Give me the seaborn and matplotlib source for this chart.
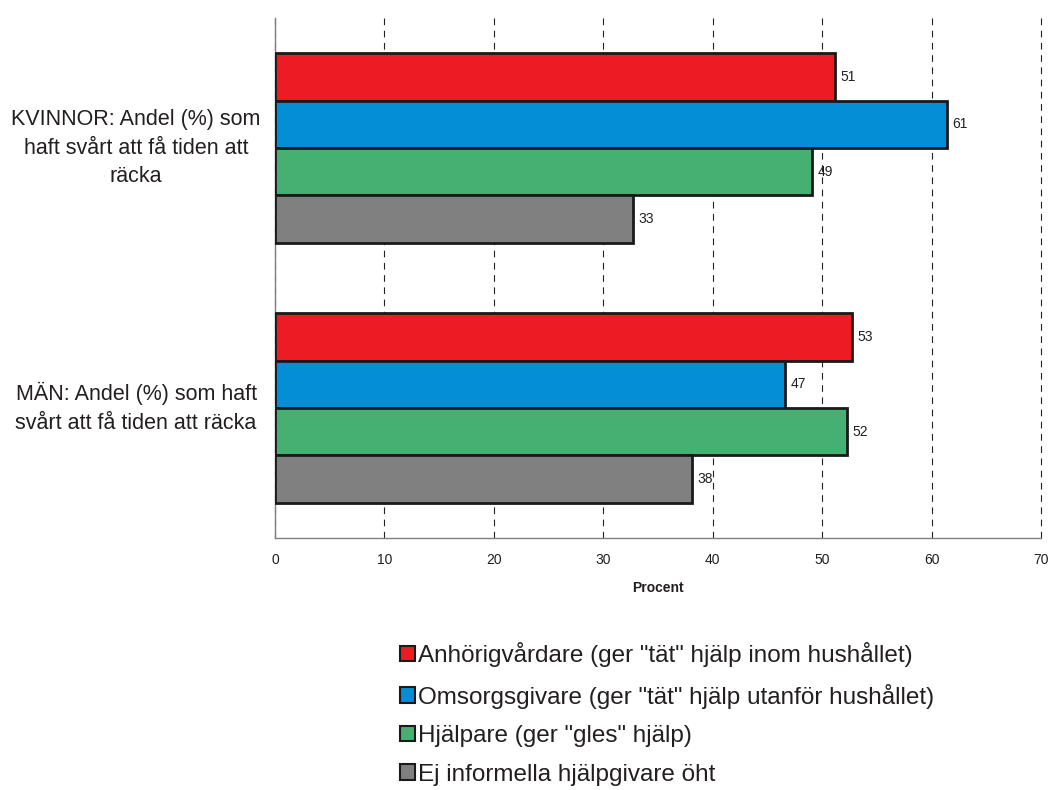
import matplotlib
matplotlib.use("Agg")
import matplotlib.pyplot as plt
import seaborn as sns
import pandas as pd
from matplotlib.patches import Patch

# Groups shown on the y axis
groups = [
    "KVINNOR: Andel (%) som\nhaft svårt att få tiden att\nräcka",
    "MÄN: Andel (%) som haft\nsvårt att få tiden att räcka",
]

# Helper categories (series)
series = [
    'Anhörigvårdare (ger "tät" hjälp inom hushållet)',
    'Omsorgsgivare (ger "tät" hjälp utanför hushållet)',
    'Hjälpare (ger "gles" hjälp)',
    "Ej informella hjälpgivare öht",
]

# Share (%) who found it hard to make time suffice, per group
anhorigvardare = [51.2, 52.7]
omsorgsgivare = [61.4, 46.6]
hjalpare = [49.1, 52.3]
ej_hjalpgivare = [32.7, 38.1]

colors = ["#ED1C24", "#038ED6", "#45B072", "#808080"]
x_ticks = [0, 10, 20, 30, 40, 50, 60, 70]

rows = []
for s, vals in zip(series, [anhorigvardare, omsorgsgivare, hjalpare, ej_hjalpgivare]):
    for g, v in zip(groups, vals):
        rows.append({"grupp": g, "serie": s, "procent": v})
df = pd.DataFrame(rows)

sns.set_theme(style="white")
plt.rcParams["font.family"] = ["Liberation Sans", "DejaVu Sans"]
text_color = "#231F20"

fig = plt.figure(figsize=(10.49, 7.90), dpi=100)
ax = fig.add_axes([275 / 1049, 1 - 538 / 790, (1041 - 275) / 1049, (538 - 18) / 790])

sns.barplot(
    data=df, y="grupp", x="procent", hue="serie",
    order=groups, hue_order=series, palette=colors,
    orient="h", width=0.73, edgecolor="#1a1a1a", linewidth=2.0,
    saturation=1.0, legend=False, ax=ax, zorder=3,
)

for cont in ax.containers:
    ax.bar_label(cont, fmt="%.0f", padding=4, fontsize=10, color=text_color)

ax.set_xlim(0, 70)
ax.set_xticks(x_ticks)
ax.set_xticklabels([str(t) for t in x_ticks], fontsize=10, color=text_color)
ax.set_xlabel("Procent", fontsize=10, fontweight="bold", color=text_color, labelpad=10)
ax.set_ylabel("")

ax.set_axisbelow(True)
ax.xaxis.grid(True, color="#222222", linestyle=(0, (6, 5)), linewidth=0.8)
ax.yaxis.grid(False)
for gl in ax.get_xgridlines():
    gl.set_clip_on(False)

for side in ["top", "right"]:
    ax.spines[side].set_visible(False)
for side in ["left", "bottom"]:
    ax.spines[side].set_color("#808080")
    ax.spines[side].set_linewidth(1.0)

ax.tick_params(axis="x", direction="inout", length=6, color="#808080", pad=8)
ax.tick_params(axis="y", length=0, pad=100)
for lbl in ax.get_yticklabels():
    lbl.set_horizontalalignment("center")
    lbl.set_verticalalignment("center")
    lbl.set_fontsize(15.5)
    lbl.set_color(text_color)
    lbl.set_linespacing(1.5)

handles = [Patch(facecolor=c, edgecolor="#1a1a1a", linewidth=1.5) for c in colors]
fig.legend(
    handles, series, loc="upper left",
    bbox_to_anchor=(400 / 1049, 1 - 642 / 790),
    frameon=False, fontsize=17.5, handlelength=0.6, handleheight=0.6,
    handletextpad=0.15, labelspacing=0.68, borderpad=0, borderaxespad=0,
    labelcolor=text_color,
)

fig.savefig("out.png", dpi=100)
